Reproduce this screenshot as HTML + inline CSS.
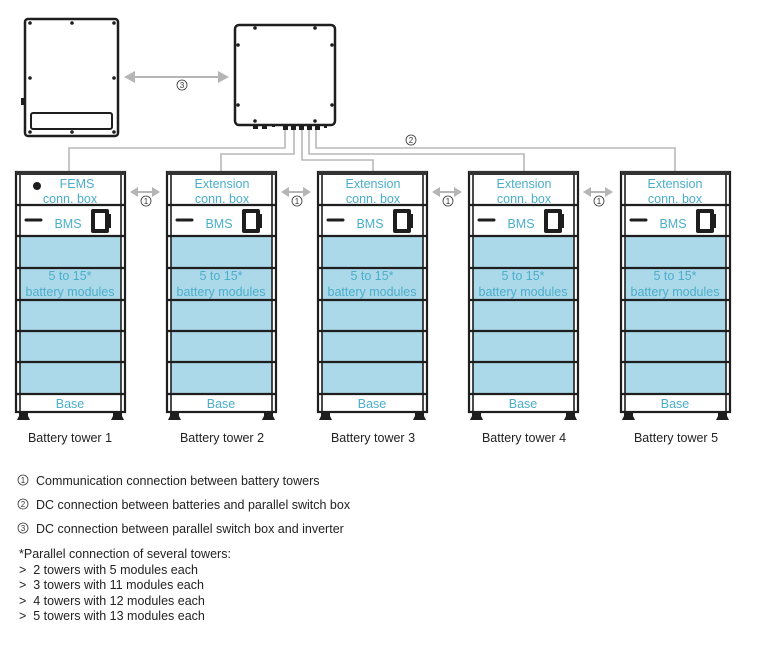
<!DOCTYPE html>
<html><head><meta charset="utf-8"><style>
html,body{margin:0;padding:0;background:#fff;}
svg{display:block;}
text{font-family:"Liberation Sans",sans-serif;}
.c{fill:#4aaecb;font-size:12.5px;text-anchor:middle;}
.k{fill:#222;font-size:12.5px;}
</style></head><body>
<svg width="768" height="651" viewBox="0 0 768 651" xmlns="http://www.w3.org/2000/svg">
<defs>
<g id="tower">
  <rect x="0" y="172" width="109" height="240" fill="#fff" stroke="#1e1e1e" stroke-width="2.2"/>
  <rect x="4" y="237" width="101" height="157" fill="#acd9e9"/>
  <rect x="0" y="171" width="109" height="4" fill="#333"/>
  <line x1="4" y1="175" x2="4" y2="412" stroke="#1e1e1e" stroke-width="1.6"/>
  <line x1="105" y1="175" x2="105" y2="412" stroke="#1e1e1e" stroke-width="1.6"/>
  <g stroke="#1e1e1e" stroke-width="2.2">
    <line x1="0" y1="205" x2="109" y2="205"/>
    <line x1="0" y1="236" x2="109" y2="236"/>
    <line x1="0" y1="268" x2="109" y2="268"/>
    <line x1="0" y1="300" x2="109" y2="300"/>
    <line x1="0" y1="331" x2="109" y2="331"/>
    <line x1="0" y1="362" x2="109" y2="362"/>
    <line x1="0" y1="394" x2="109" y2="394"/>
  </g>
  <line x1="10" y1="220" x2="25" y2="220" stroke="#1e1e1e" stroke-width="3" stroke-linecap="round"/>
  <rect x="75" y="209" width="18" height="24" rx="2" fill="#1e1e1e"/>
  <rect x="79" y="213" width="10" height="16" fill="#fff"/>
  <rect x="92" y="214" width="3" height="14" fill="#1e1e1e"/>
  <text class="c" x="52" y="228" font-size="13">BMS</text>
  <text class="c" x="54" y="280">5 to 15*</text>
  <text class="c" x="54" y="296">battery modules</text>
  <text class="c" x="54" y="408">Base</text>
  <path d="M3 412 h9 v4 l2 4 h-13 l2 -4z" fill="#1e1e1e"/>
  <path d="M97 412 h9 v4 l2 4 h-13 l2 -4z" fill="#1e1e1e"/>
</g>
<g id="arr">
  <line x1="6" y1="0" x2="24" y2="0" stroke="#b5b5b5" stroke-width="2"/>
  <path d="M0 0 L8 -5 L8 5Z M30 0 L22 -5 L22 5Z" fill="#b5b5b5"/>
</g>
</defs>

<rect x="25" y="19" width="93" height="117" rx="3" fill="#fff" stroke="#1e1e1e" stroke-width="2.5"/>
<rect x="31" y="113" width="81" height="16" rx="2" fill="none" stroke="#1e1e1e" stroke-width="2"/>
<rect x="21" y="98" width="4" height="7" fill="#1e1e1e"/>
<g fill="#1e1e1e">
<circle cx="30" cy="23" r="1.8"/><circle cx="72" cy="23" r="1.8"/><circle cx="114" cy="23" r="1.8"/>
<circle cx="30" cy="78" r="1.8"/><circle cx="114" cy="78" r="1.8"/>
<circle cx="30" cy="132" r="1.8"/><circle cx="72" cy="132" r="1.8"/><circle cx="114" cy="132" r="1.8"/>
</g>
<line x1="130" y1="77" x2="223" y2="77" stroke="#b5b5b5" stroke-width="2"/>
<path d="M124 77 L135 71 L135 83Z M229 77 L218 71 L218 83Z" fill="#b5b5b5"/>
<circle cx="182" cy="85" r="5" fill="none" stroke="#333" stroke-width="0.8"/>
<text x="182" y="88" font-size="8" text-anchor="middle" fill="#333">3</text>

<rect x="235" y="25" width="100" height="100" rx="4" fill="#fff" stroke="#1e1e1e" stroke-width="2.5"/>
<g fill="#1e1e1e">
<circle cx="255" cy="28" r="1.8"/><circle cx="315" cy="28" r="1.8"/>
<circle cx="238" cy="45" r="1.8"/><circle cx="332" cy="45" r="1.8"/>
<circle cx="238" cy="105" r="1.8"/><circle cx="332" cy="105" r="1.8"/>
<circle cx="255" cy="121" r="1.8"/><circle cx="315" cy="121" r="1.8"/>
<rect x="253" y="125" width="5" height="4"/><rect x="262" y="125" width="5" height="4"/><rect x="272" y="125" width="3" height="2"/>
<rect x="283" y="124" width="5" height="6"/><rect x="291" y="124" width="5" height="6"/><rect x="299" y="124" width="5" height="6"/><rect x="307" y="124" width="5" height="6"/><rect x="315" y="124" width="5" height="6"/><rect x="324" y="125" width="3" height="3"/>
</g>
<g fill="none" stroke="#b8b8b8" stroke-width="1.6">
<polyline points="285,130 285,148 69,148 69,172"/>
<polyline points="294,130 294,154 221,154 221,172"/>
<polyline points="302,130 302,160 373,160 373,172"/>
<polyline points="309,130 309,154 524,154 524,172"/>
<polyline points="316,130 316,148 675,148 675,172"/>
</g>
<circle cx="411" cy="140" r="5" fill="none" stroke="#333" stroke-width="0.8"/>
<text x="411" y="143" font-size="8" text-anchor="middle" fill="#333">2</text>

<use href="#tower" x="16"/>
<use href="#tower" x="167"/>
<use href="#tower" x="318"/>
<use href="#tower" x="469"/>
<use href="#tower" x="621"/>

<circle cx="37" cy="186" r="4" fill="#1e1e1e"/>
<text class="c" x="77" y="188">FEMS</text>
<text class="c" x="70" y="203">conn. box</text>
<text class="c" x="222" y="188">Extension</text><text class="c" x="222" y="203">conn. box</text>
<text class="c" x="373" y="188">Extension</text><text class="c" x="373" y="203">conn. box</text>
<text class="c" x="524" y="188">Extension</text><text class="c" x="524" y="203">conn. box</text>
<text class="c" x="675" y="188">Extension</text><text class="c" x="675" y="203">conn. box</text>

<use href="#arr" x="130" y="192"/>
<use href="#arr" x="281" y="192"/>
<use href="#arr" x="432" y="192"/>
<use href="#arr" x="583" y="192"/>
<g fill="none" stroke="#333" stroke-width="0.8">
<circle cx="146" cy="201" r="5"/><circle cx="297" cy="201" r="5"/><circle cx="448" cy="201" r="5"/><circle cx="599" cy="201" r="5"/>
</g>
<g font-size="8" text-anchor="middle" fill="#333">
<text x="146" y="204">1</text><text x="297" y="204">1</text><text x="448" y="204">1</text><text x="599" y="204">1</text>
</g>

<g class="k">
<text x="70" y="442" text-anchor="middle">Battery tower 1</text>
<text x="222" y="442" text-anchor="middle">Battery tower 2</text>
<text x="373" y="442" text-anchor="middle">Battery tower 3</text>
<text x="524" y="442" text-anchor="middle">Battery tower 4</text>
<text x="676" y="442" text-anchor="middle">Battery tower 5</text>
</g>

<g fill="none" stroke="#333" stroke-width="0.8">
<circle cx="23" cy="480" r="5"/><circle cx="23" cy="504" r="5"/><circle cx="23" cy="528" r="5"/>
</g>
<g font-size="8" text-anchor="middle" fill="#333">
<text x="23" y="483">1</text><text x="23" y="507">2</text><text x="23" y="531">3</text>
</g>
<text class="k" x="36" y="485">Communication connection between battery towers</text>
<text class="k" x="36" y="509">DC connection between batteries and parallel switch box</text>
<text class="k" x="36" y="533">DC connection between parallel switch box and inverter</text>
<text class="k" x="19" y="558">*Parallel connection of several towers:</text>
<text class="k" x="19" y="574" xml:space="preserve">&gt;  2 towers with 5 modules each</text>
<text class="k" x="19" y="589" xml:space="preserve">&gt;  3 towers with 11 modules each</text>
<text class="k" x="19" y="605" xml:space="preserve">&gt;  4 towers with 12 modules each</text>
<text class="k" x="19" y="620" xml:space="preserve">&gt;  5 towers with 13 modules each</text>
</svg>
</body></html>
